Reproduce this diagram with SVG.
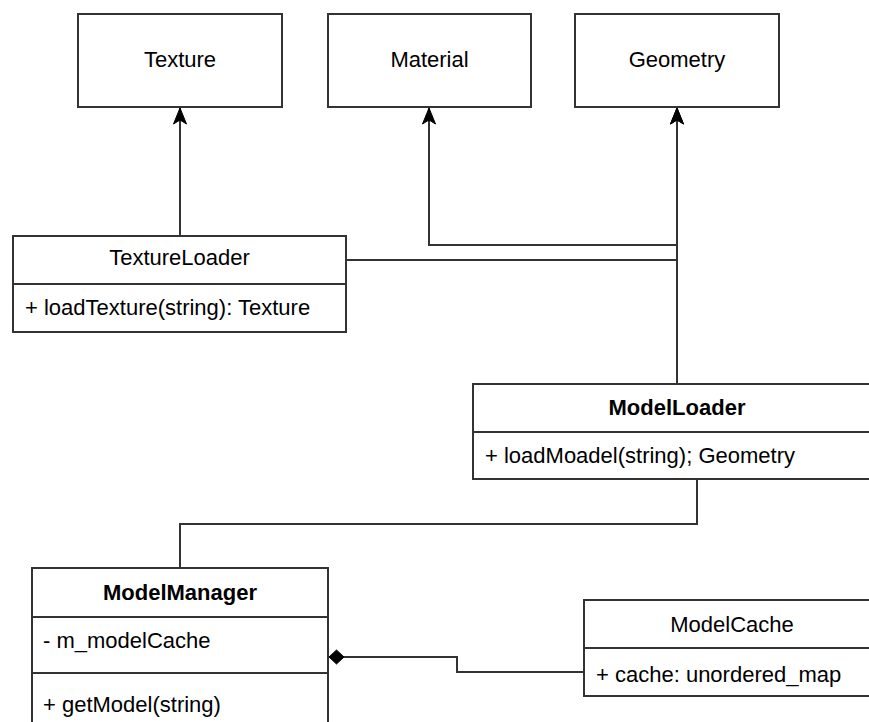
<svg xmlns="http://www.w3.org/2000/svg" width="869" height="722" viewBox="0 0 869 722">
  <style>
    .box { fill: #ffffff; stroke: #333333; stroke-width: 2; }
    .div { stroke: #333333; stroke-width: 2; fill: none; }
    .edge { fill: none; stroke: #333333; stroke-width: 2; }
    text { font-family: "Liberation Sans", Arial, sans-serif; font-size: 22px; fill: #000000; }
    .c { text-anchor: middle; }
    .b { font-weight: bold; }
  </style>
  <defs>
    <marker id="arrow" markerUnits="userSpaceOnUse" markerWidth="18" markerHeight="16" viewBox="0 0 18 16" refX="17" refY="8" orient="auto">
      <path d="M17,8 L1,1.5 L5,8 L1,14.5 Z" fill="#000000" stroke="#000000" stroke-width="1"/>
    </marker>
    <marker id="diamond" markerUnits="userSpaceOnUse" markerWidth="18" markerHeight="16" viewBox="0 0 18 16" refX="16" refY="8" orient="auto">
      <path d="M16,8 L8.5,1 L1,8 L8.5,15 Z" fill="#000000" stroke="#000000" stroke-width="1"/>
    </marker>
  </defs>

  <!-- connectors -->
  <g id="connectors">
    <path class="edge" d="M180 236 V108" marker-end="url(#arrow)"/>
    <path class="edge" d="M677 384 V245 H429 V108" marker-end="url(#arrow)"/>
    <path class="edge" d="M346 260 H677 V108" marker-end="url(#arrow)"/>
    <path class="edge" d="M677 384 V108" marker-end="url(#arrow)"/>
    <path class="edge" d="M697 479 V524 H180 V568"/>
    <path class="edge" d="M584 672 H457 V657 H329" marker-end="url(#diamond)"/>
  </g>

  <!-- simple class boxes -->
  <g id="texture">
    <rect class="box" x="78" y="14" width="204" height="93"/>
    <text class="c" x="180" y="67">Texture</text>
  </g>
  <g id="material">
    <rect class="box" x="328" y="14" width="203" height="93"/>
    <text class="c" x="429.5" y="67">Material</text>
  </g>
  <g id="geometry">
    <rect class="box" x="575" y="14" width="204" height="93"/>
    <text class="c" x="677" y="67">Geometry</text>
  </g>

  <!-- loaders -->
  <g id="texture-loader">
    <rect class="box" x="13" y="236" width="333" height="96"/>
    <line class="div" x1="13" y1="284" x2="346" y2="284"/>
    <text class="c" x="179.5" y="265">TextureLoader</text>
    <text x="25" y="315">+ loadTexture(string): Texture</text>
  </g>
  <g id="model-loader">
    <rect class="box" x="473" y="384" width="408" height="95"/>
    <line class="div" x1="473" y1="432" x2="881" y2="432"/>
    <text class="c b" x="677" y="415">ModelLoader</text>
    <text x="485" y="463">+ loadMoadel(string); Geometry</text>
  </g>

  <!-- manager and cache -->
  <g id="model-manager">
    <rect class="box" x="32" y="568" width="296" height="170"/>
    <line class="div" x1="32" y1="617" x2="328" y2="617"/>
    <line class="div" x1="32" y1="673" x2="328" y2="673"/>
    <text class="c b" x="180" y="600">ModelManager</text>
    <text x="43" y="648">- m_modelCache</text>
    <text x="43" y="712">+ getModel(string)</text>
  </g>
  <g id="model-cache">
    <rect class="box" x="584" y="600" width="296" height="96"/>
    <line class="div" x1="584" y1="648" x2="880" y2="648"/>
    <text class="c" x="732" y="632">ModelCache</text>
    <text x="596" y="682">+ cache: unordered_map</text>
  </g>
</svg>
